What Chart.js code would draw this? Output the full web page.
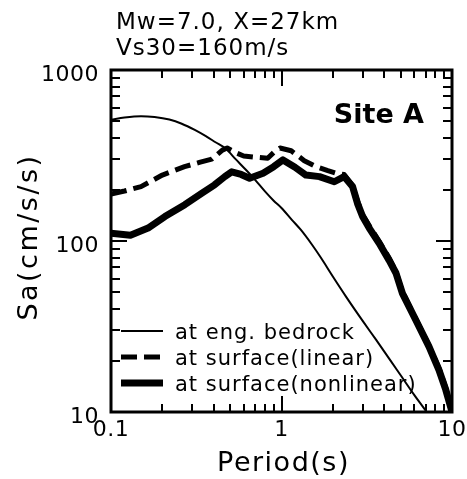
<!DOCTYPE html>
<html>
<head>
<meta charset="utf-8">
<title>Response spectra, Site A</title>
<script src="https://cdn.jsdelivr.net/npm/chart.js@4.4.1/dist/chart.umd.min.js"></script>
<style>
  html, body { margin: 0; padding: 0; background: #fff; }
  #wrap { width: 467px; height: 479px; }
</style>
</head>
<body>
<div id="wrap"><canvas id="c" width="467" height="479"></canvas></div>
<script>
// Spectral acceleration Sa (cm/s/s) versus period T (s)
const periodBedrock = [0.1, 0.12, 0.15, 0.18, 0.22, 0.26, 0.31, 0.36, 0.41, 0.47, 0.54, 0.62, 0.7, 0.8, 0.9, 1.0, 1.15, 1.3, 1.5, 1.7, 2.0, 2.4, 3.0, 3.6, 4.3, 5.0, 6.0, 7.0, 8.5, 10];
const saBedrock     = [511, 527, 537, 531, 513, 485, 446, 410, 378, 347, 300, 260, 228, 195, 172, 156, 133, 116, 96, 80, 62, 47, 34, 26.3, 20.4, 16.4, 12.6, 10.2, 7.7, 6.1];

const periodLinear = [0.1, 0.12, 0.15, 0.2, 0.27, 0.33, 0.39, 0.45, 0.48, 0.54, 0.6, 0.7, 0.83, 0.91, 0.98, 1.14, 1.36, 1.6, 1.87, 2.1, 2.33, 2.6, 2.8, 3.0, 3.3, 3.75, 4.3, 4.7, 5.1, 6.1, 7.3, 8.4, 9.2, 10];
const saLinear     = [188, 196, 208, 243, 272, 288, 301, 340, 350, 328, 314, 309, 305, 333, 350, 337, 295, 272, 258, 249, 245, 212, 170, 142, 121, 99, 79, 66, 51, 35.5, 24.6, 18, 13.8, 10.3];

const periodNonlinear = [0.1, 0.13, 0.165, 0.207, 0.271, 0.34, 0.405, 0.465, 0.51, 0.58, 0.65, 0.78, 0.9, 1.02, 1.2, 1.39, 1.67, 2.04, 2.33, 2.61, 2.79, 2.99, 3.27, 3.74, 4.28, 4.69, 5.12, 6.13, 7.33, 8.39, 9.19, 9.82, 10];
const saNonlinear     = [111, 108, 119, 139, 163, 190, 213, 238, 254, 245, 233, 249, 272, 298, 270, 243, 238, 222, 238, 208, 166, 139, 119, 97, 77, 65, 49.4, 34.5, 24.1, 17.6, 13.5, 10.7, 10];

const seriesLabels = ['at eng. bedrock', 'at surface(linear)', 'at surface(nonlinear)'];
const xTickLabels = ['0.1', '1', '10'];
const yTickLabels = ['10', '100', '1000'];
const titleLines = ['Mw=7.0, X=27km', 'Vs30=160m/s'];
const siteLabel = 'Site A';
const xTitle = 'Period(s)';
const yTitle = 'Sa(cm/s/s)';

const FONT = '"DejaVu Sans", "Liberation Sans", sans-serif';
const DASH = [16, 7];

const pts = (xs, ys) => xs.map((v, i) => ({ x: v, y: ys[i] }));

// Frame with inward log ticks on all four sides, labels, titles and the key
const decorations = {
  id: 'decorations',
  afterDatasetsDraw(chart) {
    const { ctx, chartArea: a, scales: { x, y } } = chart;
    ctx.save();
    ctx.fillStyle = '#000';
    ctx.strokeStyle = '#000';

    // key
    const keyX0 = 121, keyX1 = 163, keyY = [331, 357, 383];
    chart.data.datasets.forEach((ds, i) => {
      ctx.save();
      ctx.lineWidth = ds.borderWidth;
      ctx.setLineDash(ds.borderDash || []);
      ctx.lineCap = 'butt';
      ctx.beginPath();
      ctx.moveTo(keyX0, keyY[i]);
      ctx.lineTo(keyX1, keyY[i]);
      ctx.stroke();
      ctx.restore();
      ctx.font = '21px ' + FONT;
      ctx.letterSpacing = '1px';
      ctx.textAlign = 'left';
      ctx.textBaseline = 'alphabetic';
      ctx.fillText(ds.label, 175, keyY[i] + 8);
    });

    // frame
    ctx.setLineDash([]);
    ctx.lineWidth = 3;
    ctx.strokeRect(a.left, a.top, a.right - a.left, a.bottom - a.top);

    // ticks
    ctx.lineWidth = 2;
    const xMin = x.min, xMax = x.max, yMin = y.min, yMax = y.max;
    ctx.beginPath();
    for (let d = Math.log10(xMin); d < Math.log10(xMax) + 0.5; d++) {
      for (let m = 1; m <= 9; m++) {
        const v = m * Math.pow(10, d);
        if (v < xMin * 0.999 || v > xMax * 1.001) continue;
        const px = Math.round(x.getPixelForValue(v));
        const len = m === 1 ? 16 : 8;
        ctx.moveTo(px, a.bottom); ctx.lineTo(px, a.bottom - len);
        ctx.moveTo(px, a.top); ctx.lineTo(px, a.top + len);
      }
    }
    for (let d = Math.log10(yMin); d < Math.log10(yMax) + 0.5; d++) {
      for (let m = 1; m <= 9; m++) {
        const v = m * Math.pow(10, d);
        if (v < yMin * 0.999 || v > yMax * 1.001) continue;
        const py = Math.round(y.getPixelForValue(v));
        const len = m === 1 ? 16 : 9;
        ctx.moveTo(a.left, py); ctx.lineTo(a.left + len, py);
        ctx.moveTo(a.right, py); ctx.lineTo(a.right - len, py);
      }
    }
    ctx.stroke();

    // tick labels
    ctx.font = '22px ' + FONT;
    ctx.letterSpacing = '0.5px';
    ctx.textBaseline = 'alphabetic';
    ctx.textAlign = 'right';
    yTickLabels.forEach(t => {
      ctx.fillText(t, a.left - 12, y.getPixelForValue(parseFloat(t)) + 11);
    });
    ctx.textAlign = 'center';
    xTickLabels.forEach(t => {
      ctx.fillText(t, x.getPixelForValue(parseFloat(t)), a.bottom + 24);
    });

    // axis titles
    ctx.font = '27px ' + FONT;
    ctx.letterSpacing = '1.5px';
    ctx.textAlign = 'center';
    ctx.fillText(xTitle, (a.left + a.right) / 2 + 2, a.bottom + 59);
    ctx.save();
    ctx.translate(30, 237);
    ctx.rotate(-Math.PI / 2);
    ctx.letterSpacing = '2.5px';
    ctx.textBaseline = 'middle';
    ctx.fillText(yTitle, 0, 0);
    ctx.restore();

    // heading
    ctx.font = '23px ' + FONT;
    ctx.letterSpacing = '1px';
    ctx.textAlign = 'left';
    ctx.textBaseline = 'alphabetic';
    ctx.fillText(titleLines[0], 116, 29);
    ctx.fillText(titleLines[1], 116, 55);

    // site name
    ctx.font = 'bold 27px ' + FONT;
    ctx.letterSpacing = '0px';
    ctx.textAlign = 'right';
    ctx.fillText(siteLabel, 424, 123);

    ctx.restore();
  }
};

new Chart(document.getElementById('c'), {
  type: 'line',
  data: {
    datasets: [
      {
        label: seriesLabels[0],
        data: pts(periodBedrock, saBedrock),
        borderColor: '#000',
        borderWidth: 2,
        cubicInterpolationMode: 'monotone',
        pointRadius: 0,
        fill: false
      },
      {
        label: seriesLabels[1],
        data: pts(periodLinear, saLinear),
        borderColor: '#000',
        borderWidth: 5,
        borderDash: DASH,
        borderCapStyle: 'butt',
        borderJoinStyle: 'round',
        tension: 0,
        pointRadius: 0,
        fill: false
      },
      {
        label: seriesLabels[2],
        data: pts(periodNonlinear, saNonlinear),
        borderColor: '#000',
        borderWidth: 7,
        borderCapStyle: 'round',
        borderJoinStyle: 'round',
        tension: 0,
        pointRadius: 0,
        fill: false
      }
    ]
  },
  options: {
    responsive: false,
    animation: false,
    devicePixelRatio: 1,
    clip: 0,
    layout: { padding: { left: 111, right: 15, top: 70, bottom: 67 } },
    scales: {
      x: { type: 'logarithmic', min: 0.1, max: 10, display: false },
      y: { type: 'logarithmic', min: 10, max: 1000, display: false }
    },
    plugins: {
      legend: { display: false },
      title: { display: false },
      tooltip: { enabled: false }
    },
    events: []
  },
  plugins: [decorations]
});
</script>
</body>
</html>
